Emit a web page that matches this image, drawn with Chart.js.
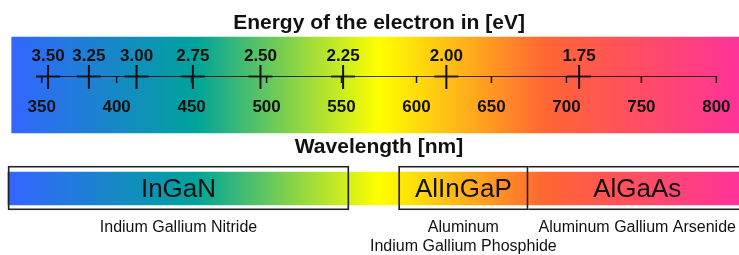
<!DOCTYPE html>
<html>
<head>
<meta charset="utf-8">
<title>LED materials and the visible spectrum</title>
<script src="https://cdn.jsdelivr.net/npm/chart.js@4/dist/chart.umd.min.js"></script>
<style>
    html, body { margin: 0; padding: 0; background: #fff; }
    canvas { display: block; }
</style>
</head>
<body>
<canvas id="spectrumChart" width="739" height="255"></canvas>
<script>
// Wavelength ticks (nm) and photon energy ticks (eV)
const wavelengthTicks = [350, 400, 450, 500, 550, 600, 650, 700, 750, 800];
const energyTicks = [3.50, 3.25, 3.00, 2.75, 2.50, 2.25, 2.00, 1.75];

// Colour band of the spectrum, in nm
const spectrumRange = [330, 815];
const gradientStops = [330, 453, 575, 686, 815];
const gradientColors = ['#3366ff', '#00a39a', '#ffff00', '#ff6633', '#ff3399'];

// LED materials and the wavelength range (nm) each one covers
const materials = ['InGaN', 'AlInGaP', 'AlGaAs'];
const materialFullNames = [
    ['Indium Gallium Nitride'],
    ['Aluminum', 'Indium Gallium Phosphide'],
    ['Aluminum Gallium Arsenide']
];
const materialStart = [327.5, 588, 674.5];
const materialEnd = [555, 674.5, 820];
const materialBand = [327.5, 815];

const HC = 1239.84; // eV*nm, so wavelength = HC / energy

// vertical layout (y scale runs 0..255 top to bottom)
const LAYOUT = {
    title: 29,
    energyLabels: 61,
    axis: 77,
    spectrumRow: 85,
    waveLabels: 111.5,
    waveTitle: 152.5,
    materialRow: 188,
    materialLabels: 196.5,
    fullNames: 231.5,
    lineGap: 19
};
const FONT = '"Liberation Sans", Arial, sans-serif';

function spectrumGradient(chart) {
    const x = chart.scales.x;
    const first = gradientStops[0];
    const last = gradientStops[gradientStops.length - 1];
    const g = chart.ctx.createLinearGradient(x.getPixelForValue(first), 0, x.getPixelForValue(last), 0);
    gradientStops.forEach((nm, i) => {
        g.addColorStop((nm - first) / (last - first), gradientColors[i]);
    });
    return g;
}

function bandColor(context) {
    return context.chart.chartArea ? spectrumGradient(context.chart) : '#ffffff';
}

// boxes that touch the previous one share its edge
function boxSkip(context) {
    const i = context.dataIndex;
    return i > 0 && materialStart[i] === materialEnd[i - 1] ? 'left' : false;
}

// Axis, tick labels and captions
const annotate = {
    id: 'annotate',
    afterDatasetsDraw(chart) {
        const { ctx, scales: { x, y } } = chart;
        const axisY = y.getPixelForValue(LAYOUT.axis);
        const centre = x.getPixelForValue((wavelengthTicks[0] + wavelengthTicks[wavelengthTicks.length - 1]) / 2);
        const energyPx = energyTicks.map(e => x.getPixelForValue(HC / e));

        ctx.save();

        // darker segments around each energy tick
        ctx.fillStyle = 'rgba(0, 0, 0, 0.4)';
        energyPx.forEach(px => ctx.fillRect(px - 12, axisY - 2, 24, 3));

        // axis line
        ctx.strokeStyle = 'rgba(0, 0, 0, 0.75)';
        ctx.lineWidth = 1;
        ctx.beginPath();
        ctx.moveTo(energyPx[0] - 12, axisY - 0.5);
        ctx.lineTo(x.getPixelForValue(wavelengthTicks[wavelengthTicks.length - 1]), axisY - 0.5);
        ctx.stroke();

        // wavelength ticks
        ctx.strokeStyle = '#111';
        ctx.lineWidth = 1.5;
        wavelengthTicks.forEach(nm => {
            const px = x.getPixelForValue(nm);
            ctx.beginPath();
            ctx.moveTo(px, axisY - 1);
            ctx.lineTo(px, axisY + 6);
            ctx.stroke();
        });

        // energy ticks
        ctx.lineWidth = 2;
        energyPx.forEach(px => {
            ctx.beginPath();
            ctx.moveTo(px, axisY - 12);
            ctx.lineTo(px, axisY + 12);
            ctx.stroke();
        });

        ctx.fillStyle = '#111';
        ctx.textAlign = 'center';
        ctx.textBaseline = 'alphabetic';

        ctx.font = 'bold 21px ' + FONT;
        ctx.fillText('Energy of the electron in [eV]', centre, y.getPixelForValue(LAYOUT.title));
        ctx.fillText('Wavelength [nm]', centre, y.getPixelForValue(LAYOUT.waveTitle));

        ctx.font = 'bold 17px ' + FONT;
        energyTicks.forEach((e, i) => {
            ctx.fillText(e.toFixed(2), energyPx[i], y.getPixelForValue(LAYOUT.energyLabels));
        });
        wavelengthTicks.forEach(nm => {
            ctx.fillText(String(nm), x.getPixelForValue(nm), y.getPixelForValue(LAYOUT.waveLabels));
        });

        // material names inside the boxes, full names under them
        materials.forEach((name, i) => {
            const mid = x.getPixelForValue((materialStart[i] + materialEnd[i]) / 2);
            ctx.font = '26px ' + FONT;
            ctx.fillText(name, mid, y.getPixelForValue(LAYOUT.materialLabels));
            ctx.font = '16px ' + FONT;
            materialFullNames[i].forEach((line, j) => {
                ctx.fillText(line, mid, y.getPixelForValue(LAYOUT.fullNames + j * LAYOUT.lineGap));
            });
        });

        ctx.restore();
    }
};

const ctx = document.getElementById('spectrumChart').getContext('2d');
const spectrumChart = new Chart(ctx, {
    type: 'bar',
    data: {
        datasets: [
            {
                label: 'Materials',
                order: 0,
                data: materials.map((m, i) => ({ x: [materialStart[i], materialEnd[i]], y: LAYOUT.materialRow })),
                backgroundColor: 'rgba(0, 0, 0, 0)',
                borderColor: '#222',
                borderWidth: 1.2,
                borderSkipped: boxSkip,
                barThickness: 44
            },
            {
                label: 'Material band',
                order: 1,
                data: [{ x: materialBand, y: LAYOUT.materialRow + 0.5 }],
                backgroundColor: bandColor,
                borderWidth: 0,
                barThickness: 33
            },
            {
                label: 'Spectrum',
                order: 2,
                data: [{ x: spectrumRange, y: LAYOUT.spectrumRow }],
                backgroundColor: bandColor,
                borderWidth: 0,
                barThickness: 96
            }
        ]
    },
    options: {
        indexAxis: 'y',
        responsive: false,
        animation: false,
        grouped: false,
        layout: { padding: 0 },
        scales: {
            x: { type: 'linear', min: 322.2, max: 815.1, display: false },
            y: { type: 'linear', min: 0, max: 255, reverse: true, offset: false, display: false }
        },
        plugins: {
            legend: { display: false },
            tooltip: { enabled: false }
        }
    },
    plugins: [annotate]
});
</script>
</body>
</html>
